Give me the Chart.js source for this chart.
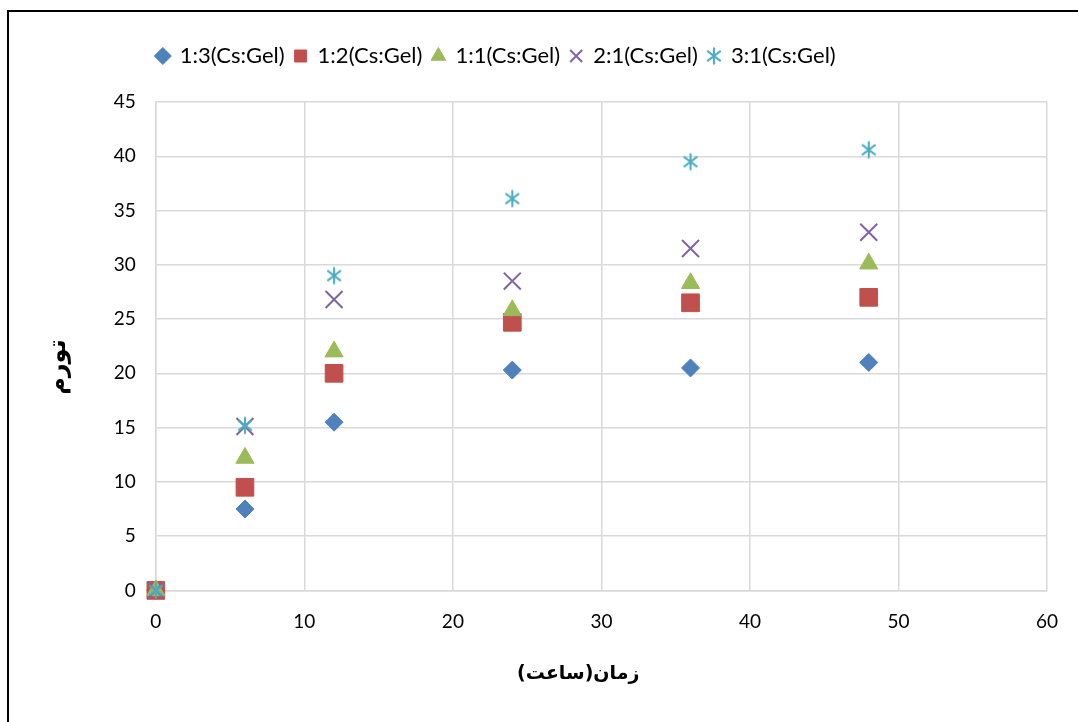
<!DOCTYPE html>
<html>
<head>
<meta charset="utf-8">
<script src="https://cdn.jsdelivr.net/npm/chart.js@4.4.1/dist/chart.umd.min.js"></script>
<style>
  html, body { margin: 0; padding: 0; background: #fff; }
  #wrap { position: relative; width: 1078px; height: 722px; }
</style>
</head>
<body>
<div id="wrap"><canvas id="chart"></canvas></div>
<script>
// hours
const hours = [0, 6, 12, 24, 36, 48];
// swelling per ratio
const r13 = [0, 7.5, 15.5, 20.3, 20.5, 21.0];
const r12 = [0, 9.5, 20.0, 24.7, 26.5, 27.0];
const r11 = [0, 12.2, 22.0, 25.8, 28.3, 30.1];
const r21 = [0, 15.1, 26.8, 28.5, 31.5, 33.0];
const r31 = [0, 15.2, 29.0, 36.1, 39.5, 40.6];
const seriesNames = ['1:3(Cs:Gel)', '1:2(Cs:Gel)', '1:1(Cs:Gel)', '2:1(Cs:Gel)', '3:1(Cs:Gel)'];

const font = "Lato, 'DejaVu Sans', sans-serif";

function pts(vals) {
    return hours.map((h, i) => ({x: h, y: vals[i]}));
}

// Excel style asterisk: vertical bar plus an X
function asterisk(size, color) {
    const c = document.createElement('canvas');
    c.width = size; c.height = size;
    const g = c.getContext('2d');
    const m = size / 2, a = size / 2 - 1.5, d = a * 0.8;
    g.strokeStyle = color;
    g.lineWidth = 2;
    g.beginPath();
    g.moveTo(m, m - a); g.lineTo(m, m + a);
    g.moveTo(m - d, m - d * 0.75); g.lineTo(m + d, m + d * 0.75);
    g.moveTo(m - d, m + d * 0.75); g.lineTo(m + d, m - d * 0.75);
    g.stroke();
    return c;
}

const starIcon = asterisk(20, '#4BACC6');

const frame = {
    id: 'frame',
    afterDraw(chart) {
        const ctx = chart.ctx;
        ctx.save();
        ctx.strokeStyle = '#000';
        ctx.lineWidth = 2;
        ctx.beginPath();
        ctx.moveTo(8, 722);
        ctx.lineTo(8, 11);
        ctx.lineTo(1078, 11);
        ctx.stroke();
        ctx.restore();
    }
};

// more room under the legend, and legend starts at the plot's left edge
const legendShift = {
    id: 'legendShift',
    afterInit(chart) {
        const lg = chart.legend;
        const fit = lg.fit;
        lg.fit = function () {
            fit.call(this);
            this.height += 25;
        };
    },
    afterLayout(chart) {
        const lg = chart.legend;
        const w = lg.right - lg.left;
        lg.left = chart.chartArea.left - 9;
        lg.right = lg.left + w;
    }
};

// trailing no-break spaces nudge the axis titles off-centre like the original
const pad = n => '\u00A0'.repeat(n);

new Chart(document.getElementById('chart'), {
    type: 'scatter',
    data: {
        datasets: [{
            label: seriesNames[0],
            data: pts(r13),
            pointStyle: 'rectRot',
            pointRadius: 9,
            backgroundColor: '#4F81BD',
            borderColor: '#4F81BD',
            order: 5,
            clip: false,
        },
        {
            label: seriesNames[1],
            data: pts(r12),
            pointStyle: 'rect',
            pointRadius: 12.5,
            backgroundColor: '#C0504D',
            borderColor: '#C0504D',
            order: 4,
            clip: false,
        },
        {
            label: seriesNames[2],
            data: pts(r11),
            pointStyle: 'triangle',
            pointRadius: 10.5,
            backgroundColor: '#9BBB59',
            borderColor: '#9BBB59',
            order: 3,
            clip: false,
        },
        {
            label: seriesNames[3],
            data: pts(r21),
            pointStyle: 'crossRot',
            pointRadius: 12,
            borderWidth: 2,
            backgroundColor: '#8064A2',
            borderColor: '#8064A2',
            order: 2,
            clip: false,
        },
        {
            label: seriesNames[4],
            data: pts(r31),
            pointStyle: starIcon,
            pointRadius: 10,
            backgroundColor: '#4BACC6',
            borderColor: '#4BACC6',
            order: 1,
            clip: false,
        }]
    },
    options: {
        responsive: true,
        maintainAspectRatio: false,
        animation: false,
        layout: {
            padding: {left: 44, right: 24, top: 35, bottom: 37}
        },
        plugins: {
            tooltip: {enabled: false},
            legend: {
                position: 'top',
                align: 'start',
                labels: {
                    usePointStyle: true,
                    boxWidth: 12,
                    boxHeight: 12,
                    padding: 10,
                    color: '#000',
                    font: {family: font, size: 22},
                    sort: (a, b) => a.datasetIndex - b.datasetIndex
                }
            }
        },
        scales: {
            x: {
                type: 'linear',
                min: 0,
                max: 60,
                ticks: {
                    stepSize: 10,
                    color: '#000',
                    padding: 20,
                    font: {family: font, size: 19}
                },
                grid: {color: '#d9d9d9', lineWidth: 1.5, drawTicks: false},
                border: {color: '#d9d9d9', width: 1.5},
                title: {
                    display: true,
                    text: 'زمان(ساعت)' + pad(7),
                    color: '#000',
                    padding: {top: 9, bottom: 0},
                    font: {family: "'DejaVu Sans', sans-serif", size: 19, weight: 'bold'}
                }
            },
            y: {
                min: 0,
                max: 45,
                ticks: {
                    stepSize: 5,
                    color: '#000',
                    padding: 20,
                    font: {family: font, size: 19}
                },
                grid: {color: '#d9d9d9', lineWidth: 1.5, drawTicks: false},
                border: {color: '#d9d9d9', width: 1.5},
                title: {
                    display: true,
                    text: 'تورم' + pad(5),
                    color: '#000',
                    padding: {top: 0, bottom: 21},
                    font: {family: "'DejaVu Sans', sans-serif", size: 24, weight: 'bold'}
                }
            }
        }
    },
    plugins: [frame, legendShift]
});
</script>
</body>
</html>
